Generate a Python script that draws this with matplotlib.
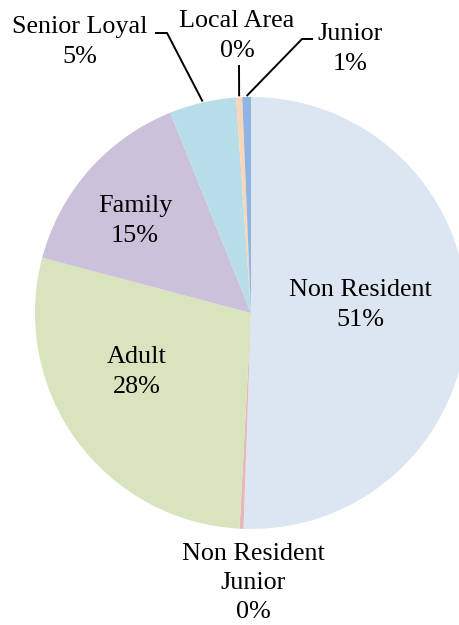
import numpy as np
import matplotlib.pyplot as plt

# membership mix, clockwise from 12 o'clock
categories = ["Non Resident", "Non Resident\nJunior", "Adult", "Family",
              "Senior Loyal", "Local Area", "Junior"]
shares = [50.6, 0.3, 28.3, 14.8, 5.0, 0.45, 0.65]
colors = ["#DCE6F2", "#E6B9B8", "#D7E4BD", "#CCC1DA", "#B7DEE8", "#FCD5B5", "#8EB4E3"]

W, H = 459, 625
fig = plt.figure(figsize=(W / 100, H / 100), dpi=100)
ax = fig.add_axes([0, 0, 1, 1])

cx, cy, r = 251, H - 313, 216
wedges, _ = ax.pie(shares, colors=colors, startangle=90, counterclock=False,
                   center=(cx, cy), radius=r, frame=True,
                   wedgeprops=dict(linewidth=0))
ax.set_xlim(0, W)
ax.set_ylim(0, H)
ax.set_aspect("equal")
ax.axis("off")

total = sum(shares)
labels = [f"{c}\n{round(v / total * 100):.0f}%" for c, v in zip(categories, shares)]

font = dict(family="Liberation Serif", size=18.8, ha="center", va="center",
            linespacing=1.42)

# label centres (pixels from top-left)
label_pos = [(360, 305), (253, 583), (137, 372), (135, 221),
             (80, 42), (237, 36), (350, 49)]
for lab, (x, y) in zip(labels, label_pos):
    ax.text(x, H - y, lab, **font)


def edge_point(w):
    a = np.deg2rad((w.theta1 + w.theta2) / 2)
    return cx + r * np.cos(a), cy + r * np.sin(a)


# leader lines for the thin outer slices
leaders = {4: [(155, 33), (167, 33)], 5: [(239, 65)], 6: [(313, 39), (302, 39)]}
for i, pts in leaders.items():
    ex, ey = edge_point(wedges[i])
    xs = [p[0] for p in pts] + [ex]
    ys = [H - p[1] for p in pts] + [ey + 1]
    ax.plot(xs, ys, color="black", lw=1.4, solid_capstyle="butt")

fig.savefig("out.png", dpi=100)
